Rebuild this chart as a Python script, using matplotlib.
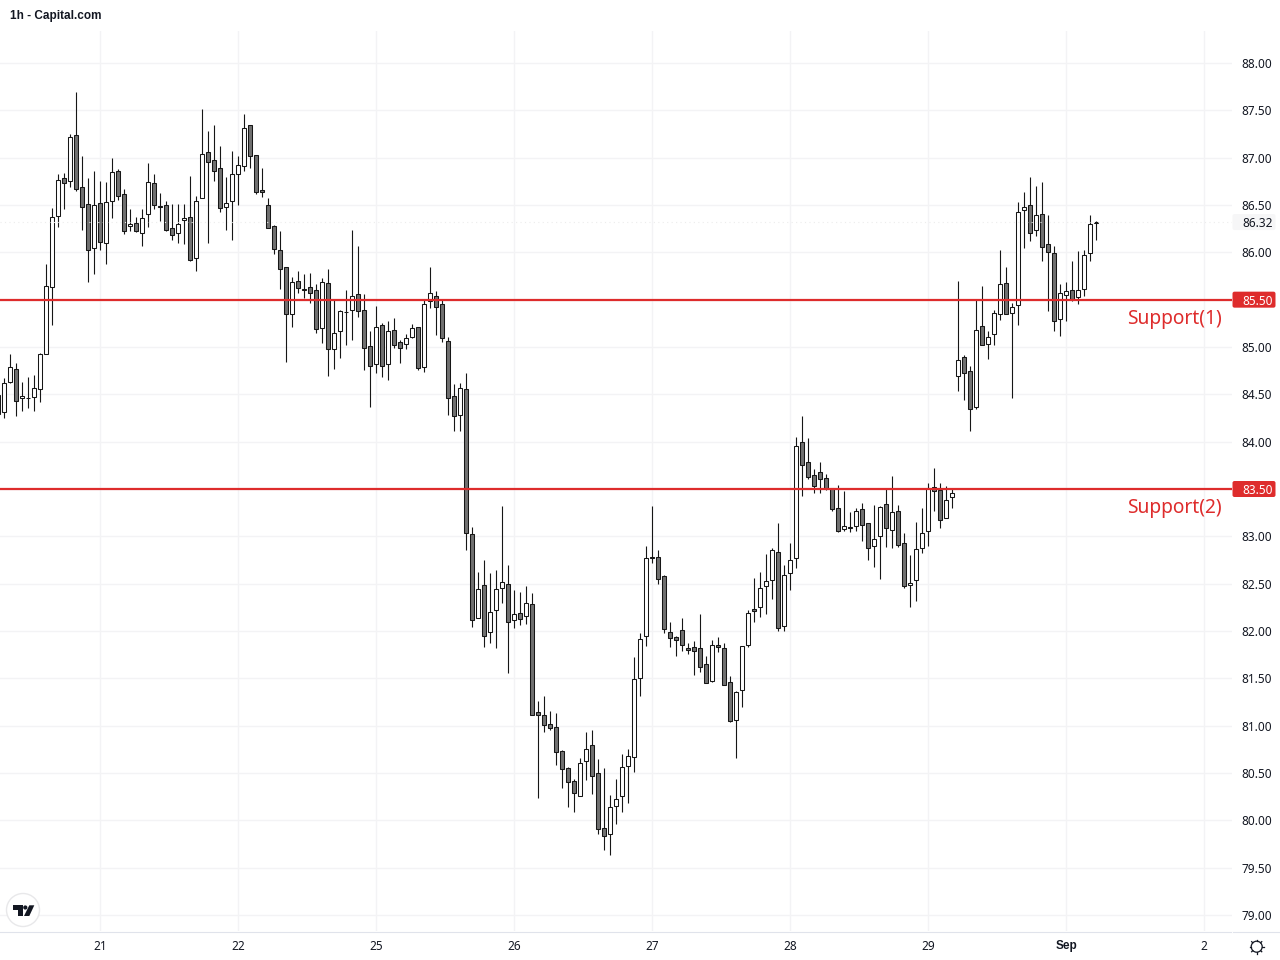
import matplotlib
matplotlib.use("Agg")
import matplotlib.pyplot as plt
from matplotlib.patches import Circle, FancyBboxPatch, Polygon

# hourly candles, oldest first
opens = [84.29,
    84.31, 84.627, 84.765, 84.46, 84.465, 84.47, 84.553, 84.93, 85.63, 86.38,
    86.79, 86.757, 87.236, 86.687, 86.507, 86.042, 86.518, 86.095, 86.539, 86.856,
    86.613, 86.275, 86.313, 86.20, 86.40, 86.729, 86.486, 86.496, 86.254, 86.20,
    86.338, 86.37, 85.937, 86.57, 87.056, 86.972, 86.887, 86.475, 86.539, 86.824,
    86.908, 87.342, 87.025, 86.655, 86.496, 86.275, 86.021, 85.842, 85.345, 85.694,
    85.61, 85.63, 85.598, 85.197, 85.672, 84.975, 85.165, 85.372, 85.387, 85.556,
    85.387, 85.007, 84.817, 85.229, 84.817, 85.176, 85.049, 85.028, 85.102, 85.208,
    84.785, 85.482, 85.535, 85.451, 85.06, 84.479, 84.278, 84.553, 83.022, 82.134,
    82.483, 81.986, 82.219, 82.451, 82.493, 82.113, 82.187, 82.155, 82.281, 81.14,
    81.109, 81.014, 80.982, 80.729, 80.549, 80.412, 80.26, 80.623, 80.792, 80.496,
    79.915, 79.852, 80.148, 80.26, 80.57, 80.665, 81.50, 81.943, 82.78, 82.778,
    82.577, 81.986, 81.933, 82.007, 81.817, 81.827, 81.817, 81.648, 81.468, 81.848,
    81.817, 81.457, 81.056, 81.373, 81.848, 82.23, 82.25, 82.472, 82.535, 82.831,
    82.049, 82.609, 82.768, 83.993, 83.782, 83.644, 83.676, 83.613, 83.507, 83.296,
    83.074, 83.10, 83.106, 83.285, 83.137, 82.894, 83.0, 83.338, 83.063, 83.264,
    82.926, 82.482, 82.535, 82.873, 83.053, 83.518, 83.486, 83.19, 83.412, 84.69,
    84.891, 84.743, 84.362, 85.218, 85.028, 85.134, 85.345, 85.672, 85.355, 85.44,
    86.443, 86.496, 86.232, 86.401, 86.084, 85.989, 85.292, 85.546, 85.598, 85.524,
    85.609, 85.989, 86.31]
highs = [84.49,
    84.67, 84.93, 84.83, 84.63, 84.68, 84.70, 84.937, 85.877, 86.465, 86.83,
    86.84, 87.25, 87.69, 87.014, 86.785, 86.856, 86.754, 86.743, 86.996, 86.88,
    86.666, 86.458, 86.373, 86.458, 86.944, 86.83, 86.627, 86.542, 86.51, 86.51,
    86.51, 86.806, 86.595, 87.514, 87.282, 87.345, 87.123, 86.796, 87.07, 87.014,
    87.461, 87.342, 87.025, 86.891, 86.574, 86.292, 86.225, 85.842, 85.739, 85.803,
    85.771, 85.782, 85.665, 85.725, 85.82, 85.507, 85.391, 85.602, 86.236, 86.067,
    85.56, 85.165, 85.43, 85.25, 85.275, 85.306, 85.074, 85.134, 85.243, 85.208,
    85.50, 85.845, 85.59, 85.507, 85.105, 84.609, 84.62, 84.726, 83.095, 82.62,
    82.747, 82.61, 82.641, 83.321, 82.694, 82.43, 82.409, 82.472, 82.398, 81.257,
    81.31, 81.151, 81.13, 80.739, 80.56, 80.433, 80.655, 80.929, 80.95, 80.644,
    80.549, 80.264, 80.433, 80.697, 80.75, 81.722, 81.975, 82.894, 83.32, 82.852,
    82.588, 82.095, 81.943, 82.137, 81.869, 81.894, 82.179, 81.732, 81.901, 81.933,
    81.869, 81.521, 81.362, 81.838, 82.218, 82.56, 82.62, 82.813, 82.873, 83.141,
    82.694, 82.926, 84.046, 84.271, 84.039, 83.708, 83.782, 83.658, 83.507, 83.539,
    83.475, 83.257, 83.296, 83.349, 83.137, 83.327, 83.317, 83.51, 83.637, 83.327,
    83.032, 82.803, 83.148, 83.296, 83.56, 83.718, 83.56, 83.528, 83.50, 85.693,
    84.912, 84.796, 85.50, 85.641, 85.165, 85.387, 86.024, 85.841, 85.461, 86.528,
    86.634, 86.792, 86.697, 86.739, 86.391, 86.063, 85.662, 85.683, 85.905, 86.01,
    86.024, 86.391, 86.335]
lows = [84.29,
    84.25, 84.62, 84.275, 84.325, 84.356, 84.325, 84.42, 84.93, 85.232, 86.27,
    86.46, 86.69, 86.648, 86.24, 85.69, 85.77, 86.025, 85.877, 86.363, 86.556,
    86.197, 86.225, 86.218, 86.07, 86.268, 86.461, 86.331, 86.229, 86.13, 86.10,
    86.088, 85.912, 85.806, 86.57, 86.10, 86.757, 86.43, 86.24, 86.134, 86.50,
    86.863, 86.894, 86.613, 86.588, 86.254, 85.986, 85.616, 84.845, 85.215, 85.574,
    85.517, 85.468, 85.151, 85.046, 84.697, 84.771, 84.887, 85.025, 85.077, 85.32,
    84.76, 84.37, 84.729, 84.686, 84.655, 84.986, 84.834, 84.982, 85.091, 84.76,
    84.739, 85.415, 85.127, 85.056, 84.285, 84.116, 84.116, 82.86, 82.046, 82.134,
    81.835, 81.877, 81.824, 82.30, 81.56, 82.036, 82.067, 82.078, 81.109, 80.239,
    80.936, 80.957, 80.588, 80.345, 80.144, 80.091, 80.253, 80.429, 80.281, 79.859,
    79.69, 79.637, 79.965, 80.091, 80.186, 80.514, 81.317, 81.845, 82.715, 82.496,
    81.98, 81.834, 81.739, 81.792, 81.76, 81.538, 81.57, 81.447, 81.457, 81.781,
    81.426, 81.035, 80.662, 81.20, 81.827, 82.10, 82.151, 82.183, 82.342, 82.003,
    81.996, 82.433, 82.669, 83.43, 83.609, 83.461, 83.461, 83.493, 83.271, 83.042,
    83.053, 83.046, 83.056, 82.947, 82.753, 82.68, 82.549, 82.891, 82.88, 82.884,
    82.451, 82.257, 82.32, 82.82, 82.898, 83.271, 83.092, 83.19, 83.303, 84.538,
    84.443, 84.116, 84.341, 85.017, 84.873, 85.021, 85.288, 85.345, 84.464, 85.236,
    86.049, 86.123, 86.176, 85.912, 85.384, 85.172, 85.119, 85.278, 85.489, 85.457,
    85.542, 85.912, 86.133]
closes = [84.49,
    84.617, 84.786, 84.427, 84.48, 84.46, 84.564, 84.923, 85.641, 86.37, 86.76,
    86.73, 87.215, 86.665, 86.475, 86.021, 86.497, 86.106, 86.528, 86.845, 86.592,
    86.222, 86.296, 86.229, 86.359, 86.739, 86.496, 86.48, 86.232, 86.18, 86.296,
    86.366, 85.916, 86.539, 87.035, 86.95, 86.856, 86.465, 86.518, 86.824, 86.919,
    87.31, 87.014, 86.634, 86.634, 86.254, 86.032, 85.82, 85.345, 85.683, 85.62,
    85.60, 85.567, 85.186, 85.683, 84.975, 85.144, 85.377, 85.365, 85.535, 85.377,
    84.986, 84.796, 85.208, 84.796, 85.165, 85.017, 84.986, 85.091, 85.197, 84.775,
    85.451, 85.567, 85.419, 85.091, 84.458, 84.267, 84.563, 83.032, 82.113, 82.44,
    81.944, 82.198, 82.44, 82.514, 82.10, 82.176, 82.124, 82.293, 81.109, 81.109,
    81.003, 80.971, 80.718, 80.538, 80.401, 80.285, 80.602, 80.75, 80.465, 79.905,
    79.831, 80.137, 80.222, 80.56, 80.676, 81.489, 81.912, 82.767, 82.77, 82.546,
    82.017, 81.922, 81.901, 81.848, 81.795, 81.785, 81.616, 81.447, 81.848, 81.827,
    81.426, 81.045, 81.352, 81.838, 82.186, 82.215, 82.451, 82.525, 82.852, 82.028,
    82.588, 82.746, 83.951, 83.75, 83.623, 83.528, 83.602, 83.507, 83.285, 83.053,
    83.106, 83.09, 83.264, 83.116, 82.873, 82.968, 83.306, 83.084, 83.253, 82.905,
    82.472, 82.503, 82.863, 83.032, 83.507, 83.475, 83.169, 83.38, 83.454, 84.859,
    84.722, 84.341, 85.176, 85.017, 85.102, 85.355, 85.662, 85.345, 85.419, 86.422,
    86.475, 86.20, 86.391, 86.053, 85.999, 85.271, 85.567, 85.588, 85.503, 85.598,
    85.968, 86.295, 86.32]

day_labels = ["21", "22", "25", "26", "27", "28", "29", "Sep", "2"]
day_bars = [16, 39, 62, 85, 108, 131, 154, 177, 200]
price_ticks = [79.0, 79.5, 80.0, 80.5, 81.0, 81.5, 82.0, 82.5, 83.0, 83.5, 84.0, 84.5,
               85.0, 85.5, 86.0, 86.5, 87.0, 87.5, 88.0]
support_levels = [85.5, 83.5]
support_labels = ["Support(1)", "Support(2)"]
last_price = 86.32

INK = "#131722"
RED = "#de2c2c"
FONT = "Noto Sans"

fig = plt.figure(figsize=(12.8, 9.6), dpi=100, facecolor="white")
ax = fig.add_axes([0, 29 / 960, 1232 / 1280, 900 / 960])
ax.set_xlim(-0.70, 204.633)
ax.set_ylim(78.831, 88.338)
for s in ax.spines.values():
    s.set_visible(False)

ax.grid(True, color="#f3f3f5", lw=1.0)
ax.set_axisbelow(True)
ax.yaxis.tick_right()
ax.set_yticks(price_ticks)
ax.set_yticklabels(["%.2f" % p for p in price_ticks], fontsize=8.5, color=INK, family=FONT)
ax.set_xticks(day_bars)
xlabs = ax.set_xticklabels(day_labels, fontsize=8.5, color=INK, family=FONT)
ax.tick_params(axis="both", length=0)
ax.tick_params(axis="y", pad=7)
ax.tick_params(axis="x", pad=6.2)
# month label is the bold one
xlabs[7].set_fontfamily("Liberation Sans")
xlabs[7].set_fontweight("bold")

# candles
bars = list(range(-1, len(opens) - 1))
ax.vlines(bars, lows, highs, color="#161616", lw=0.8, zorder=2)
for i, o, c in zip(bars, opens, closes):
    fill = "white" if c >= o else "#707070"
    ax.bar(i, abs(c - o), bottom=min(o, c), width=0.68, color=fill,
           edgecolor="#161616", lw=0.75, zorder=3)

ax.axhline(last_price, color="#ececec", lw=0.8, ls=(0, (1, 3)), zorder=4)

yt = ax.get_yaxis_transform()
for level, name in zip(support_levels, support_labels):
    ax.axhline(level, color=RED, lw=1.6, zorder=5)
    ax.annotate(name, xy=(1, level), xycoords=yt, xytext=(-10, -19), textcoords="offset pixels",
                ha="right", va="center", color=RED, fontsize=13.8, family=FONT)

# overlay in pixels for the scale furniture and logos
ov = fig.add_axes([0, 0, 1, 1], facecolor="none")
ov.set_xlim(0, 1280)
ov.set_ylim(960, 0)
ov.axis("off")


def y_px(p):
    return 960 - ax.transData.transform((0, p))[1]


for level in support_levels:
    y = y_px(level)
    ov.add_patch(FancyBboxPatch((1233, y - 7.5), 42, 15, boxstyle="round,pad=0.5,rounding_size=2",
                                fc=RED, ec="none"))
    ov.text(1242, y, "%.2f" % level, color="white", fontsize=8.5, family=FONT, va="center_baseline")
y = y_px(last_price)
ov.add_patch(FancyBboxPatch((1233, y - 7.5), 42, 15, boxstyle="round,pad=0.5,rounding_size=2",
                            fc="#f6f6f7", ec="none"))
ov.text(1242, y, "%.2f" % last_price, color=INK, fontsize=8.5, family=FONT, va="center_baseline")

ov.plot([0, 1231], [932, 932], color="#e0e3eb", lw=0.8)
ov.plot([1233, 1280], [932, 932], color="#e0e3eb", lw=0.8)

ov.text(10, 16, "1h - Capital.com", color=INK, fontsize=8.5, fontweight="bold",
        family="Liberation Sans", va="center")

# TradingView mark
ov.add_patch(Circle((23, 910), 16.5, fc="white", ec="#e8e8ea", lw=1))
ov.add_patch(Polygon([(12.7, 905.3), (22.7, 905.3), (22.7, 916), (18, 916), (18, 910), (12.7, 910)],
                     fc=INK, ec="none"))
ov.add_patch(Circle((25.3, 907.5), 2.1, fc=INK, ec="none"))
ov.add_patch(Polygon([(29.3, 905.3), (34.3, 905.3), (29.3, 916), (24, 916)], fc=INK, ec="none"))

# settings gear
ov.add_patch(Circle((1256.7, 946.7), 5.5, fc="white", ec=INK, lw=0.9))
for dx, dy in [(0, -1), (0, 1), (-1, 0), (1, 0), (0.7, 0.7), (-0.7, 0.7), (0.7, -0.7), (-0.7, -0.7)]:
    ov.plot([1256.7 + 5.5 * dx, 1256.7 + 7.2 * dx], [946.7 + 5.5 * dy, 946.7 + 7.2 * dy],
            color=INK, lw=0.9)

fig.savefig("out.png", dpi=100)
